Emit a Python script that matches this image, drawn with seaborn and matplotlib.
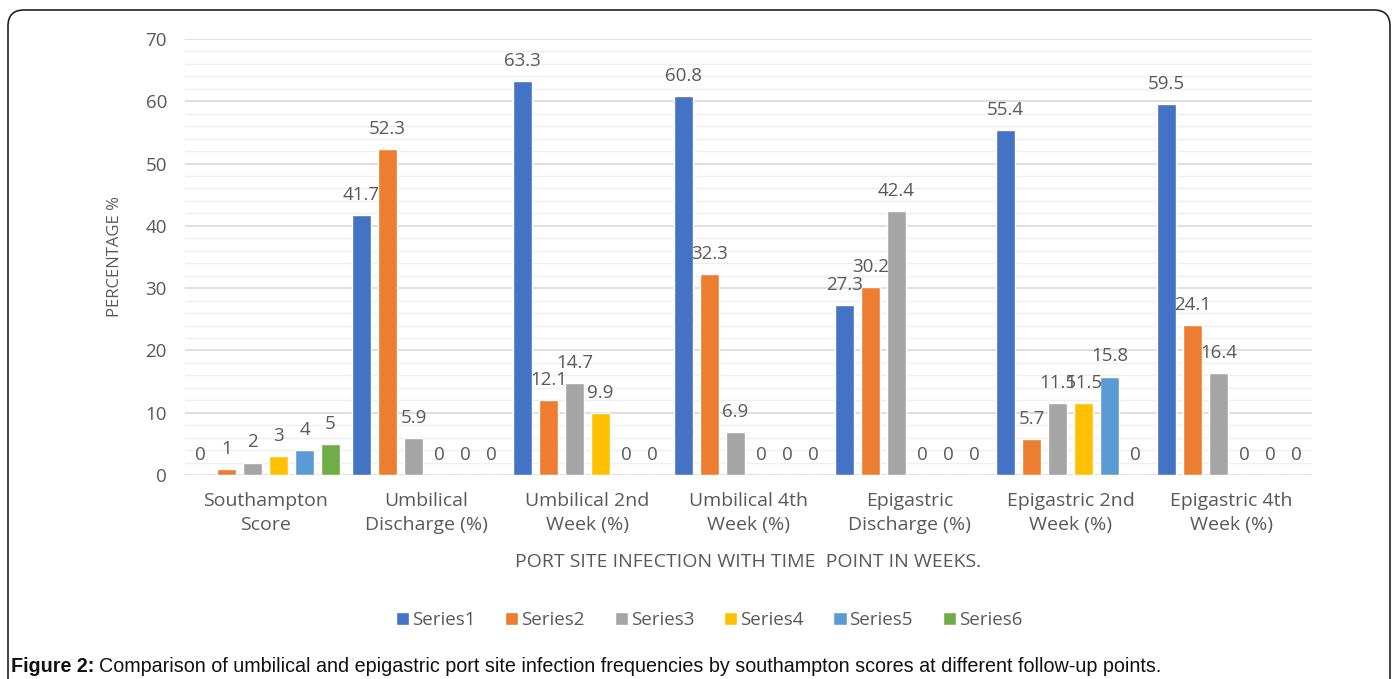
import matplotlib
matplotlib.use("Agg")
import matplotlib.pyplot as plt
from matplotlib.patches import FancyBboxPatch
from matplotlib.ticker import MultipleLocator
import seaborn as sns
import pandas as pd

categories = [
    "Southampton\nScore",
    "Umbilical\nDischarge (%)",
    "Umbilical 2nd\nWeek (%)",
    "Umbilical 4th\nWeek (%)",
    "Epigastric\nDischarge (%)",
    "Epigastric 2nd\nWeek (%)",
    "Epigastric 4th\nWeek (%)",
]
series_names = ["Series1", "Series2", "Series3", "Series4", "Series5", "Series6"]
series1 = [0, 41.7, 63.3, 60.8, 27.3, 55.4, 59.5]
series2 = [1, 52.3, 12.1, 32.3, 30.2, 5.7, 24.1]
series3 = [2, 5.9, 14.7, 6.9, 42.4, 11.5, 16.4]
series4 = [3, 0, 9.9, 0, 0, 11.5, 0]
series5 = [4, 0, 0, 0, 0, 15.8, 0]
series6 = [5, 0, 0, 0, 0, 0, 0]
colors = ["#4472C4", "#ED7D31", "#A5A5A5", "#FFC000", "#5B9BD5", "#70AD47"]

rows = []
for name, vals in zip(series_names, [series1, series2, series3, series4, series5, series6]):
    for cat, v in zip(categories, vals):
        rows.append({"category": cat, "series": name, "value": v})
df = pd.DataFrame(rows)

sns.set_style("white")
plt.rcParams["font.family"] = ["Open Sans", "DejaVu Sans"]
text_color = "#595959"

W, H = 1394, 679
fig = plt.figure(figsize=(W / 100, H / 100), dpi=100)

# rounded outer frame drawn in pixel coordinates
frame_ax = fig.add_axes([0, 0, 1, 1], zorder=0)
frame_ax.set_xlim(0, W)
frame_ax.set_ylim(H, 0)
frame_ax.axis("off")
frame_ax.add_patch(FancyBboxPatch((8, 10), 1382, 720,
                                  boxstyle="round,pad=0,rounding_size=16",
                                  fill=False, edgecolor="#222222", linewidth=1.2))

ax = fig.add_axes([185 / W, 1 - 475 / H, (1312 - 185) / W, (475 - 39) / H], zorder=1)
ax.patch.set_alpha(0)

sns.barplot(data=df, x="category", y="value", hue="series", palette=colors,
            width=0.97, gap=0.28, saturation=1, ax=ax, legend=True)

for cont in ax.containers:
    ax.bar_label(cont, fmt="{:g}", padding=8, fontsize=13.5, color=text_color)

ax.set_ylim(0, 70)
ax.yaxis.set_major_locator(MultipleLocator(10))
ax.yaxis.set_minor_locator(MultipleLocator(2))
ax.grid(axis="y", which="major", color="#D9D9D9", linewidth=1.2)
ax.grid(axis="y", which="minor", color="#EFEFEF", linewidth=1.0)
ax.set_axisbelow(True)
for s in ax.spines.values():
    s.set_visible(False)
ax.tick_params(axis="both", which="both", length=0)
ax.tick_params(axis="y", labelsize=13.5, labelcolor=text_color, pad=13)
ax.tick_params(axis="x", labelsize=14, labelcolor=text_color, pad=12)
for lab in ax.get_xticklabels():
    lab.set_linespacing(1.45)

ax.set_xlabel("PORT SITE INFECTION WITH TIME  POINT IN WEEKS.", fontsize=14,
              color=text_color, labelpad=14)
ax.set_ylabel("PERCENTAGE %", fontsize=12, color=text_color, labelpad=16)

handles, labels = ax.get_legend_handles_labels()
ax.get_legend().remove()
fig.legend(handles, labels, loc="center", bbox_to_anchor=(709 / W, 1 - 620 / H),
           ncol=6, frameon=False, fontsize=13.5, labelcolor=text_color,
           handlelength=0.7, handleheight=0.7, handletextpad=0.15, columnspacing=1.6)

# caption: bold prefix followed by regular text
cap_font = ["Liberation Sans", "DejaVu Sans"]
cap_y = 1 - 666 / H
t1 = fig.text(11 / W, cap_y, "Figure 2:", fontsize=14.2, fontweight="bold",
              family=cap_font, va="center", color="#111111")
fig.canvas.draw()
bb = t1.get_window_extent()
fig.text((bb.x1 + 5) / W, cap_y,
         "Comparison of umbilical and epigastric port site infection frequencies by "
         "southampton scores at different follow-up points.",
         fontsize=14.2, family=cap_font, va="center", color="#111111")

fig.savefig("out.png", dpi=100)
